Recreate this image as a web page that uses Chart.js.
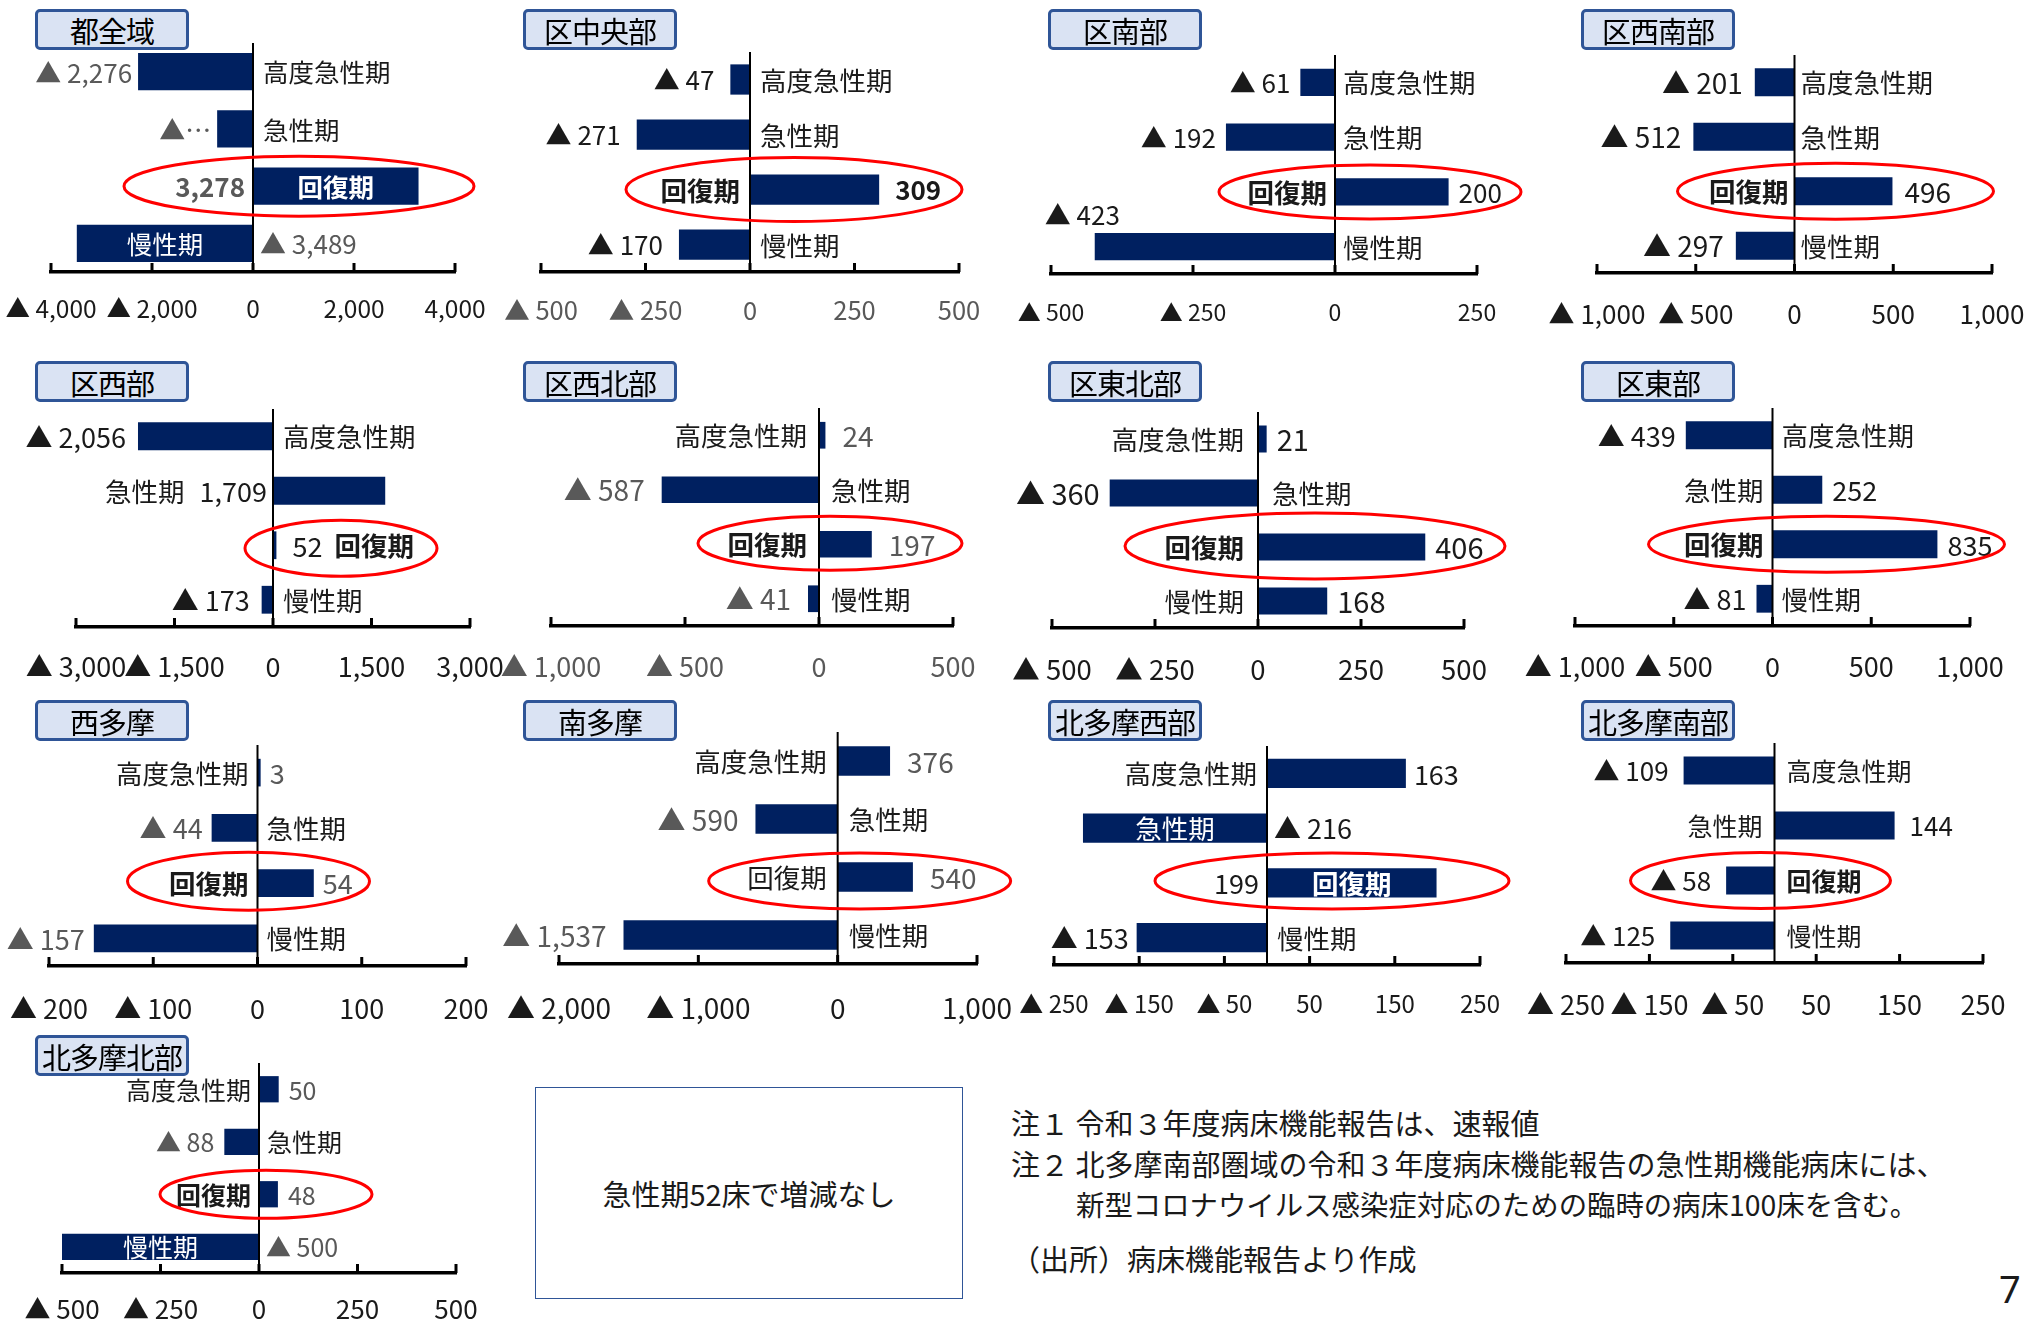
<!DOCTYPE html>
<html><head><meta charset="utf-8">
<script src="https://cdn.jsdelivr.net/npm/chart.js@4.4.0/dist/chart.umd.min.js"></script>
<style>
html,body{margin:0;padding:0;background:#fff;}
body{width:2033px;height:1326px;position:relative;overflow:hidden;font-family:"Noto Sans CJK JP",sans-serif;color:#1a1a1a;}
canvas{position:absolute;}
.title{position:absolute;box-sizing:border-box;width:154px;height:41px;background:#dae3f3;border:3px solid #2f5597;border-radius:5px;font-size:29px;display:flex;align-items:center;justify-content:center;color:#000;white-space:nowrap;letter-spacing:-1px;}
.note{position:absolute;font-size:29px;white-space:nowrap;color:#1a1a1a;line-height:1;}
#island{position:absolute;left:535px;top:1087px;width:428px;height:212px;box-sizing:border-box;border:1.5px solid #2f5597;display:flex;align-items:center;justify-content:center;font-size:29px;}
#page{position:absolute;left:1999px;top:1262px;font-size:38px;font-family:"Noto Sans",sans-serif;}
</style></head>
<body>
<div id="island">急性期52床で増減なし</div>
<div class="note" style="left:1011px;top:1108px">注１ 令和３年度病床機能報告は、速報値</div>
<div class="note" style="left:1011px;top:1149px">注２ 北多摩南部圏域の令和３年度病床機能報告の急性期機能病床には、</div>
<div class="note" style="left:1076px;top:1190px;font-size:28.4px">新型コロナウイルス感染症対応のための臨時の病床100床を含む。</div>
<div class="note" style="left:1011px;top:1244px">（出所）病床機能報告より作成</div>
<div id="page">7</div>
<script>
// ---------------- data ----------------
const categories = ['高度急性期','急性期','回復期','慢性期'];
const regionNames = ['都全域','区中央部','区南部','区西南部','区西部','区西北部','区東北部','区東部','西多摩','南多摩','北多摩西部','北多摩南部','北多摩北部'];
const valTozeniki    = [-2276, -710, 3278, -3489];
const valKuChuo      = [-47, -271, 309, -170];
const valKuNan       = [-61, -192, 200, -423];
const valKuSeinan    = [-201, -512, 496, -297];
const valKuSei       = [-2056, 1709, 52, -173];
const valKuSeihoku   = [24, -587, 197, -41];
const valKuTohoku    = [21, -360, 406, 168];
const valKuTo        = [-439, 252, 835, -81];
const valNishitama   = [3, -44, 54, -157];
const valMinamitama  = [376, -590, 540, -1537];
const valKitaSei     = [163, -216, 199, -153];
const valKitaNan     = [-109, 144, -58, -125];
const valKitaHoku    = [50, -88, 48, -500];
const ticks4000 = [-4000, -2000, 0, 2000, 4000];
const ticks3000 = [-3000, -1500, 0, 1500, 3000];
const ticks1000 = [-1000, -500, 0, 500, 1000];
const ticks1000b = [-1000, -500, 0, 500];
const ticks500  = [-500, -250, 0, 250, 500];
const ticks500b = [-500, -250, 0, 250];
const ticks2000 = [-2000, -1000, 0, 1000];
const ticks200  = [-200, -100, 0, 100, 200];
const ticks250  = [-250, -150, -50, 50, 150, 250];
const truncatedText = { 0: { 1: '▲…' } };

// ---------------- layout / style ----------------
const FAM = '"Noto Sans CJK JP", sans-serif';
const colX = [35, 523, 1048, 1581];
const rowY = [9, 361, 700, 1035];
const G = '#595959', K = '#1a1a1a';
const panels = [
 {v:valTozeniki,  t:ticks4000, L:51,  R:455,  T:43,  B:272, bp:.65, m:['n','n','in','in'], vc:G, tc:K, vg:6,  lg:10, bl:[2], bv:[2], e:[46,175,30,0], c:0, r:0, vs:26, ls:25.5, ts:24.5, tp:22},
 {v:valKuChuo,    t:ticks500,  L:541, R:959,  T:52,  B:272, bp:.55, m:['n','n','n','n'],   vc:K, tc:G, vg:16, lg:10, bl:[2], bv:[2], e:[44,168,32,0], c:1, r:0, vs:26, ls:26.5, ts:25.5, tp:23.5},
 {v:valKuNan,     t:ticks500b, L:1051,R:1477, T:55,  B:274, bp:.5,  m:['n','n','n','ab'],  vc:K, tc:K, vg:10, lg:8,  bl:[2], bv:[],  e:[35,151,27,0], c:2, r:0, vs:26, ls:26.5, ts:23, tp:24},
 {v:valKuSeinan,  t:ticks1000, L:1597,R:1992, T:55,  B:273, bp:.51, m:['n','n','n','n'],   vc:K, tc:K, vg:12, lg:6,  bl:[2], bv:[],  e:[41,158,28,0], c:3, r:0, vs:28, ls:26.5, ts:26, tp:26},
 {v:valKuSei,     t:ticks3000, L:76,  R:470,  T:409, B:627, bp:.51, m:['n','vz','vl','n'], vc:K, tc:K, vg:12, lg:10, bl:[2], bv:[],  e:[68,96,28,3],  c:0, r:1, vs:27, ls:26.5, ts:27, tp:23.5},
 {v:valKuSeihoku, t:ticks1000b,L:551, R:953,  T:408, B:626, bp:.49, m:['n','n','n','n'],   vc:G, tc:G, vg:17, lg:12, bl:[2], bv:[],  e:[11,132,27,-1],c:1, r:1, vs:28, ls:26.5, ts:27, tp:24.5},
 {v:valKuTohoku,  t:ticks500,  L:1052,R:1464, T:412, B:628, bp:.5,  m:['n','n','n','n'],   vc:K, tc:K, vg:10, lg:14, bl:[2], bv:[],  e:[57,190,33,-1],c:2, r:1, vs:29, ls:26.5, ts:27.5, tp:25},
 {v:valKuTo,      t:ticks1000, L:1575,R:1970, T:408, B:626, bp:.51, m:['n','n','n','n'],   vc:K, tc:K, vg:10, lg:9,  bl:[2], bv:[],  e:[54,178,28,0], c:3, r:1, vs:27, ls:26.5, ts:27, tp:24.5},
 {v:valNishitama, t:ticks200,  L:49,  R:466,  T:745, B:966, bp:.5,  m:['n','n','n','n'],   vc:G, tc:K, vg:9,  lg:9,  bl:[2], bv:[],  e:[-9,121,29,-2],c:0, r:2, vs:27, ls:26.5, ts:27, tp:26.5},
 {v:valMinamitama,t:ticks2000, L:559, R:977,  T:732, B:964, bp:.51, m:['n','n','n','n'],   vc:G, tc:K, vg:17, lg:11, bl:[],  bv:[],  e:[22,151,28,4], c:1, r:2, vs:28, ls:26.5, ts:28, tp:27.5},
 {v:valKitaSei,   t:ticks250,  L:1054,R:1480, T:746, B:965, bp:.53, m:['n','in','in','n'], vc:K, tc:K, vg:8,  lg:10, bl:[2], bv:[],  e:[65,177,28,-2],c:2, r:2, vs:27, ls:26.5, ts:24, tp:24.5},
 {v:valKitaNan,   t:ticks250,  L:1566,R:1983, T:743, B:963, bp:.51, m:['n','n','n','n'],   vc:K, tc:K, vg:15, lg:12, bl:[2], bv:[],  e:[-14,130,28,0],c:3, r:2, vs:26, ls:25, ts:27, tp:25.5},
 {v:valKitaHoku,  t:ticks500,  L:62,  R:456,  T:1063,B:1273,bp:.5,  m:['n','n','n','in'],  vc:G, tc:K, vg:10, lg:8,  bl:[2], bv:[],  e:[7,106,24,0],  c:0, r:3, vs:25, ls:25, ts:26, tp:21}
];

const fmt = v => (v < 0 ? '▲ ' : '') + Math.abs(v).toLocaleString('en-US');
const PX = 130, PT = 40, PB = 80;

function makeDeco(p, idx) {
  return {
    id: 'deco' + idx,
    afterDatasetsDraw(chart) {
      const {ctx, chartArea: a, scales: {x}} = chart;
      const z = x.getPixelForValue(0);
      ctx.save();
      ctx.strokeStyle = '#000';
      ctx.lineWidth = 2;
      ctx.beginPath(); ctx.moveTo(z, a.top); ctx.lineTo(z, a.bottom); ctx.stroke();
      ctx.lineWidth = 3;
      x.ticks.forEach((t, i) => {
        const px = x.getPixelForTick(i);
        ctx.beginPath(); ctx.moveTo(px, a.bottom - 9); ctx.lineTo(px, a.bottom); ctx.stroke();
      });
      const meta = chart.getDatasetMeta(0);
      ctx.textBaseline = 'middle';
      const put = (txt, xx, yy, align, color, size, bold) => {
        ctx.font = (bold ? 'bold ' : '') + size + 'px ' + FAM;
        ctx.fillStyle = color; ctx.textAlign = align;
        ctx.fillText(txt, xx, yy);
        return ctx.measureText(txt).width;
      };
      const meas = (txt, size, bold) => { ctx.font = (bold ? 'bold ' : '') + size + 'px ' + FAM; return ctx.measureText(txt).width; };
      meta.data.forEach((bar, i) => {
        const val = p.v[i], neg = val < 0;
        const bx = bar.x, by = bar.y + 1;
        const vt = (truncatedText[idx] && truncatedText[idx][i]) || fmt(val);
        const cat = categories[i];
        const lb = p.bl.includes(i), vb = p.bv.includes(i);
        const LS = p.ls, VS = p.vs;
        const mode = p.m[i];
        if (mode === 'n' || mode === 'ab') {
          if (mode === 'ab') put(vt, bx - 50, by - 33, 'left', p.vc, VS, vb);
          else put(vt, neg ? bx - p.vg : bx + p.vg, by, neg ? 'right' : 'left', p.vc, VS, vb);
          put(cat, neg ? z + p.lg : z - p.lg, by, neg ? 'left' : 'right', K, LS, lb);
        } else if (mode === 'in') {
          put(cat, (bx + z) / 2, by, 'center', '#fff', LS, lb);
          put(vt, neg ? z + 7 : z - 8, by, neg ? 'left' : 'right', p.vc, VS, vb);
        } else if (mode === 'vz') {
          const w = meas(vt, VS, vb);
          put(vt, neg ? z + 6 : z - 6, by, neg ? 'left' : 'right', p.vc, VS, vb);
          put(cat, neg ? z + 6 + w + 15 : z - 6 - w - 15, by, neg ? 'left' : 'right', K, LS, lb);
        } else if (mode === 'vl') {
          const w = meas(vt, VS, vb);
          put(vt, neg ? bx - 16 : bx + 16, by, neg ? 'right' : 'left', p.vc, VS, vb);
          put(cat, neg ? bx - 16 - w - 12 : bx + 16 + w + 12, by, neg ? 'right' : 'left', K, LS, lb);
        }
      });
      // highlight ellipse around 回復期
      const rb = meta.data[2];
      ctx.strokeStyle = '#f00'; ctx.lineWidth = 3;
      ctx.beginPath();
      ctx.ellipse(z + p.e[0], rb.y + p.e[3], p.e[1], p.e[2], 0, 0, Math.PI * 2);
      ctx.stroke();
      ctx.restore();
    }
  };
}

panels.forEach((p, idx) => {
  const t = document.createElement('div');
  t.className = 'title';
  t.textContent = regionNames[idx];
  t.style.left = colX[p.c] + 'px';
  t.style.top = rowY[p.r] + 'px';
  document.body.appendChild(t);

  const c = document.createElement('canvas');
  const W = (p.R - p.L) + 2 * PX, H = (p.B - p.T) + PT + PB;
  c.width = W; c.height = H;
  c.style.left = (p.L - PX) + 'px'; c.style.top = (p.T - PT) + 'px';
  c.style.width = W + 'px'; c.style.height = H + 'px';
  document.body.appendChild(c);

  new Chart(c, {
    type: 'bar',
    data: { labels: categories, datasets: [{ data: p.v, backgroundColor: '#002060', barPercentage: p.bp, categoryPercentage: 1 }] },
    options: {
      indexAxis: 'y', responsive: false, animation: false, devicePixelRatio: 1,
      layout: { padding: { left: PX, right: PX, top: PT, bottom: 0 } },
      plugins: { legend: { display: false }, tooltip: { enabled: false } },
      scales: {
        x: {
          min: p.t[0], max: p.t[p.t.length - 1],
          afterBuildTicks: s => { s.ticks = p.t.map(v => ({ value: v })); },
          afterFit: s => { s.height = PB; },
          grid: { display: false, drawTicks: false },
          border: { display: true, color: '#000', width: 3.5 },
          ticks: { autoSkip: false, maxRotation: 0, minRotation: 0, padding: p.tp, color: p.tc,
                   font: { size: p.ts, family: FAM }, callback: v => fmt(v) }
        },
        y: { display: false, offset: true }
      }
    },
    plugins: [makeDeco(p, idx)]
  });
});
</script>
</body></html>
